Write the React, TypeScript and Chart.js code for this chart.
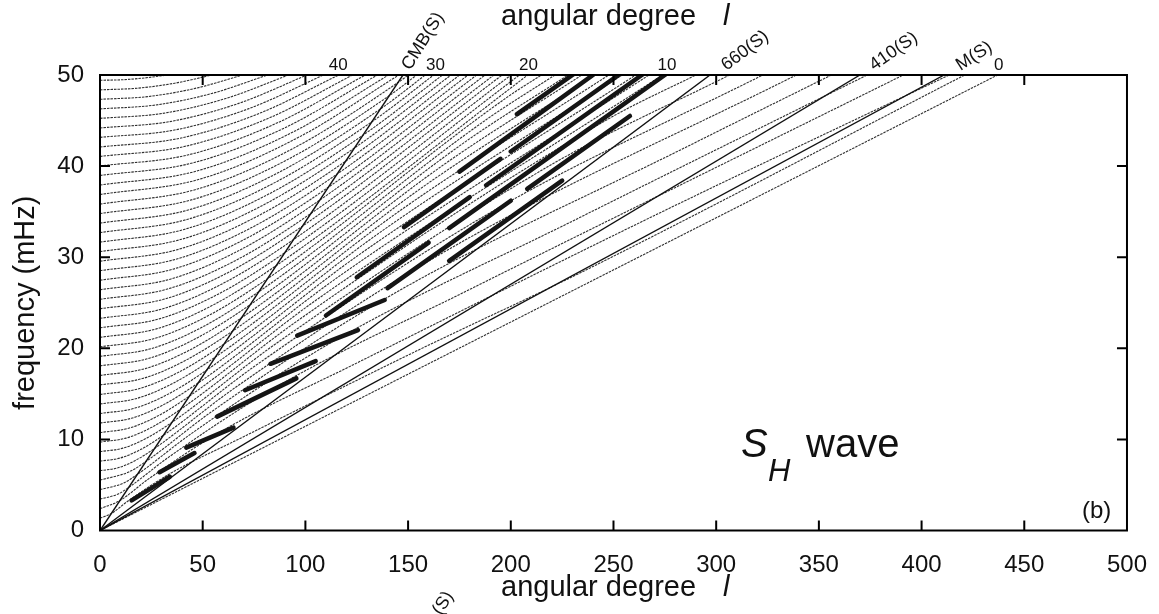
import React, { useEffect, useRef } from "react";
import { Chart, registerables } from "chart.js";

Chart.register(...registerables);

type Pt = [number, number];

// ---- axis ticks ----
const degreeTicks = [50, 100, 150, 200, 250, 300, 350, 400, 450];
const freqTicks = [10, 20, 30, 40];

// ---- overtone branches (angular degree l, frequency mHz) ----
const overtones40to47: Pt[][] = [
  [[0, 49.42], [10.9, 49.48], [21.8, 49.68], [32.7, 50]],
  [[0, 48.37], [18.2, 48.55], [36.4, 49.1], [54.6, 50]],
  [[0, 47.33], [23.2, 47.63], [46.3, 48.53], [69.5, 50]],
  [[0, 46.28], [27.2, 46.71], [54.4, 47.97], [81.6, 50]],
  [[0, 45.24], [30.6, 45.79], [61.2, 47.42], [91.8, 50]],
  [[0, 44.19], [33.6, 44.87], [67.2, 46.86], [100.8, 50]],
  [[0, 43.15], [36.3, 43.96], [72.5, 46.31], [108.8, 50]],
  [[0, 42.1], [38.7, 43.05], [77.5, 45.78], [116.2, 50]],
];

const overtones30to39: Pt[][] = [
  [[0, 41.06], [41, 42.15], [82, 45.25], [123, 50]],
  [[0, 40.01], [43.1, 41.24], [86.1, 44.72], [129.2, 50]],
  [[0, 38.97], [45, 40.34], [90, 44.21], [135, 50]],
  [[0, 37.92], [46.8, 39.44], [93.7, 43.71], [140.5, 50]],
  [[0, 36.88], [48.5, 38.56], [97, 43.2], [145.5, 50]],
  [[0, 35.83], [46.3, 37.41], [92.7, 41.78], [145.6, 49.25], [150.1, 50]],
  [[0, 34.79], [45, 36.32], [90, 40.56], [141.4, 47.82], [154.2, 50]],
  [[0, 33.74], [43.6, 35.22], [87.3, 39.34], [137.2, 46.38], [158.4, 50]],
  [[0, 32.7], [42.3, 34.14], [84.6, 38.13], [132.9, 44.95], [162.5, 50]],
  [[0, 31.65], [40.9, 33.04], [81.9, 36.9], [128.7, 43.5], [166.8, 50]],
];

const overtones20to29: Pt[][] = [
  [[0, 30.61], [39.6, 31.96], [79.2, 35.69], [124.4, 42.07], [170.9, 50]],
  [[0, 29.56], [38.2, 30.86], [76.4, 34.47], [120.2, 40.63], [175.1, 50]],
  [[0, 28.52], [36.9, 29.77], [73.8, 33.25], [115.9, 39.2], [179.2, 50]],
  [[0, 27.47], [35.5, 28.68], [71, 32.03], [111.7, 37.76], [183.4, 50]],
  [[0, 26.43], [34.2, 27.59], [68.4, 30.82], [107.4, 36.33], [187.5, 50]],
  [[0, 25.38], [32.8, 26.5], [65.6, 29.59], [103.2, 34.88], [191.8, 50]],
  [[0, 24.34], [31.5, 25.41], [62.9, 28.38], [98.9, 33.46], [195.8, 50]],
  [[0, 23.29], [30.1, 24.31], [60.2, 27.16], [94.7, 32.01], [200.1, 50]],
  [[0, 22.25], [28.8, 23.23], [57.5, 25.94], [90.5, 30.58], [204.2, 50]],
  [[0, 21.2], [27.4, 22.13], [54.8, 24.72], [86.2, 29.14], [208.3, 50]],
];

const overtones10to19: Pt[][] = [
  [[0, 20.16], [26.1, 21.05], [52.1, 23.51], [82, 27.71], [198.1, 47.54], [214.9, 50]],
  [[0, 19.11], [24.7, 19.95], [49.4, 22.28], [77.7, 26.27], [187.8, 45.06], [221.5, 50]],
  [[0, 18.07], [23.4, 18.87], [46.7, 21.07], [73.5, 24.84], [177.5, 42.61], [227.9, 50]],
  [[0, 17.02], [22, 17.77], [44, 19.85], [69.2, 23.39], [167.2, 40.13], [234.6, 50]],
  [[0, 15.98], [20.7, 16.68], [41.3, 18.63], [65, 21.96], [157, 37.68], [241.1, 50]],
  [[0, 14.93], [19.3, 15.59], [38.6, 17.41], [60.7, 20.52], [146.7, 35.21], [247.7, 50]],
  [[0, 13.89], [18, 14.5], [35.9, 16.2], [56.5, 19.09], [136.5, 32.75], [254.2, 50]],
  [[0, 12.84], [16.6, 13.4], [33.2, 14.97], [52.2, 17.65], [126.2, 30.28], [260.8, 50]],
  [[0, 11.8], [15.3, 12.32], [30.5, 13.76], [48, 16.22], [115.9, 27.82], [267.3, 50]],
  [[0, 10.75], [13.9, 11.22], [27.8, 12.53], [43.7, 14.78], [105.6, 25.35], [273.9, 50]],
];

const overtones0to9: Pt[][] = [
  [[0, 9.71], [12.6, 10.14], [25.1, 11.32], [39.5, 13.35], [95.4, 22.9], [247.4, 45.16], [290.1, 50]],
  [[0, 8.66], [11.2, 9.04], [22.4, 10.1], [35.2, 11.9], [85.1, 20.42], [220.7, 40.28], [306.5, 50]],
  [[0, 7.62], [9.9, 7.96], [19.7, 8.88], [31, 10.47], [74.9, 17.97], [194.2, 35.44], [322.7, 50]],
  [[0, 6.57], [8.5, 6.86], [17, 7.66], [26.7, 9.03], [64.6, 15.49], [167.4, 30.56], [339, 50]],
  [[0, 5.53], [14.3, 6.45], [22.5, 7.6], [54.3, 13.04], [140.9, 25.72], [285.3, 42.08], [356.1, 50]],
  [[0, 4.48], [11.6, 5.22], [18.2, 6.16], [44, 10.56], [114.2, 20.84], [231.2, 34.09], [373.5, 50]],
  [[0, 3.44], [8.9, 4.01], [14, 4.73], [33.8, 8.11], [87.7, 16], [177.5, 26.18], [391.1, 50]],
  [[0, 2.39], [9.7, 3.29], [23.5, 5.64], [60.9, 11.12], [123.3, 18.19], [271.7, 34.77], [413.4, 50]],
  [[0, 1.35], [5.5, 1.86], [13.3, 3.18], [34.4, 6.28], [69.7, 10.27], [153.5, 19.64], [232.7, 28.16], [421, 50]],
  [[0, 0], [437, 50]],
];

// ---- ray lines grazing discontinuities (degree where they reach 50 mHz) ----
const rayNames = ["CMB(S)", "660(S)", "410(S)", "M(S)"];
const rayTopDegree = [147.5, 297, 370, 411];
const rayLabelDegree = [151, 305, 377, 419];
const rayLabelAngle = [-58, -37, -35, -33];

// ---- overtone numbers at the top edge ----
const overtoneLabels = ["40", "30", "20", "10", "0"];
const overtoneLabelDegree = [116, 163.3, 208.6, 276, 437.5];

// ---- dark segments where adjacent branches nearly touch ----
const darkSegments: Pt[][] = [
  [[15.4, 3.3], [34, 5.9]],
  [[29, 6.4], [46, 8.5]],
  [[42, 9.1], [65, 11.3]],
  [[57, 12.5], [95.6, 16.7]],
  [[70.6, 15.4], [105, 18.6]],
  [[83, 18.3], [125.6, 22]],
  [[96, 21.4], [138.6, 25.3]],
  [[110, 23.6], [160, 31.6]],
  [[125, 27.8], [180, 36.6]],
  [[140, 26.6], [200, 36.2]],
  [[148, 33.3], [195, 40.8]],
  [[170, 29.6], [225, 38.4]],
  [[170, 33.2], [275, 50]],
  [[175, 39.4], [240, 50]],
  [[188, 37.9], [263.8, 50]],
  [[200, 41.6], [252.5, 50]],
  [[203, 45.7], [230, 50]],
  [[208, 37.5], [258, 45.5]],
];

const FONT = '"Liberation Sans", Arial, Helvetica, sans-serif';
const f = (size: number, italic = false) => `${italic ? "italic " : ""}${size}px ${FONT}`;

const toXY = (pts: Pt[]) => pts.map(([x, y]) => ({ x, y }));

const decorPlugin = {
  id: "decor",
  afterDatasetsDraw(chart: any) {
    const { ctx, chartArea: a } = chart;
    const xs = chart.scales.x;
    const ys = chart.scales.y;
    ctx.save();
    ctx.strokeStyle = "#000";
    ctx.lineWidth = 2;
    ctx.strokeRect(a.left, a.top, a.right - a.left, a.bottom - a.top);
    ctx.beginPath();
    for (const v of degreeTicks) {
      const px = xs.getPixelForValue(v);
      ctx.moveTo(px, a.bottom);
      ctx.lineTo(px, a.bottom - 10);
      ctx.moveTo(px, a.top);
      ctx.lineTo(px, a.top + 10);
    }
    for (const v of freqTicks) {
      const py = ys.getPixelForValue(v);
      ctx.moveTo(a.left, py);
      ctx.lineTo(a.left + 10, py);
      ctx.moveTo(a.right, py);
      ctx.lineTo(a.right - 10, py);
    }
    ctx.stroke();
    ctx.restore();
  },
  afterDraw(chart: any) {
    const { ctx, chartArea: a } = chart;
    const xs = chart.scales.x;
    ctx.save();
    ctx.fillStyle = "#111";
    ctx.textBaseline = "alphabetic";
    ctx.textAlign = "left";
    ctx.font = f(29);
    ctx.fillText("angular degree", 501, 596);
    ctx.fillText("angular degree", 501, 25);
    ctx.font = f(29, true);
    ctx.fillText("l", 723, 596);
    ctx.fillText("l", 723, 25);
    ctx.save();
    ctx.translate(26, (a.top + a.bottom) / 2);
    ctx.rotate(-Math.PI / 2);
    ctx.textAlign = "center";
    ctx.textBaseline = "middle";
    ctx.font = f(29);
    ctx.fillText("frequency (mHz)", 0, 0);
    ctx.restore();
    ctx.font = f(17);
    ctx.textAlign = "center";
    overtoneLabels.forEach((t, i) => {
      ctx.fillText(t, xs.getPixelForValue(overtoneLabelDegree[i]), a.top - 5);
    });
    ctx.textAlign = "left";
    ctx.font = f(18);
    rayNames.forEach((t, i) => {
      ctx.save();
      ctx.translate(xs.getPixelForValue(rayLabelDegree[i]), a.top - 4);
      ctx.rotate((rayLabelAngle[i] * Math.PI) / 180);
      ctx.fillText(t, 0, 0);
      ctx.restore();
    });
    ctx.save();
    ctx.translate(441, 616);
    ctx.rotate((-58 * Math.PI) / 180);
    ctx.fillText("(S)", 0, 0);
    ctx.restore();
    ctx.font = f(40, true);
    ctx.fillText("S", 741, 457);
    ctx.font = f(31, true);
    ctx.fillText("H", 768, 481);
    ctx.font = f(40);
    ctx.fillText("wave", 806, 457);
    ctx.font = f(24);
    ctx.fillText("(b)", 1082, 518);
    ctx.restore();
  },
};

export default function App() {
  const ref = useRef<HTMLCanvasElement | null>(null);
  useEffect(() => {
    if (!ref.current) return;
    const branchStyle = {
      borderColor: "rgba(25,25,25,0.9)",
      borderWidth: 1.1,
      borderDash: [2.5, 1],
      pointRadius: 0,
      cubicInterpolationMode: "monotone" as const,
      fill: false,
      order: 3,
    };
    const groups = [overtones40to47, overtones30to39, overtones20to29, overtones10to19, overtones0to9];
    const datasets: any[] = [];
    groups.forEach((g) =>
      g.forEach((pts) => datasets.push({ ...branchStyle, data: toXY(pts) }))
    );
    rayTopDegree.forEach((top) =>
      datasets.push({
        data: [{ x: 0, y: 0 }, { x: top, y: 50 }],
        borderColor: "#111",
        borderWidth: 1.4,
        pointRadius: 0,
        order: 2,
      })
    );
    darkSegments.forEach((pts) =>
      datasets.push({
        data: toXY(pts),
        borderColor: "#151515",
        borderWidth: 4.5,
        borderCapStyle: "round",
        pointRadius: 0,
        order: 1,
      })
    );
    const chart = new Chart(ref.current, {
      type: "line",
      data: { datasets },
      options: {
        animation: false,
        responsive: false,
        devicePixelRatio: 1,
        layout: { padding: { left: 30, right: 31, top: 75, bottom: 33.5 } },
        plugins: { legend: { display: false }, tooltip: { enabled: false } },
        scales: {
          x: {
            type: "linear",
            min: 0,
            max: 500,
            grid: { display: false },
            border: { display: false },
            ticks: { stepSize: 50, padding: 12, color: "#111", font: { size: 24, family: FONT }, maxRotation: 0 },
            afterFit: (s: any) => {
              s.height = 50;
            },
          },
          y: {
            type: "linear",
            min: 0,
            max: 50,
            grid: { display: false },
            border: { display: false },
            ticks: { stepSize: 10, padding: 8, color: "#111", font: { size: 24, family: FONT } },
            afterFit: (s: any) => {
              s.width = 70;
            },
          },
        },
      },
      plugins: [decorPlugin],
    });
    return () => chart.destroy();
  }, []);
  return (
    <div style={{ position: "fixed", left: 0, top: 0, width: 1159, height: 614, background: "#fff" }}>
      <canvas ref={ref} width={1159} height={614} style={{ display: "block" }} />
    </div>
  );
}
